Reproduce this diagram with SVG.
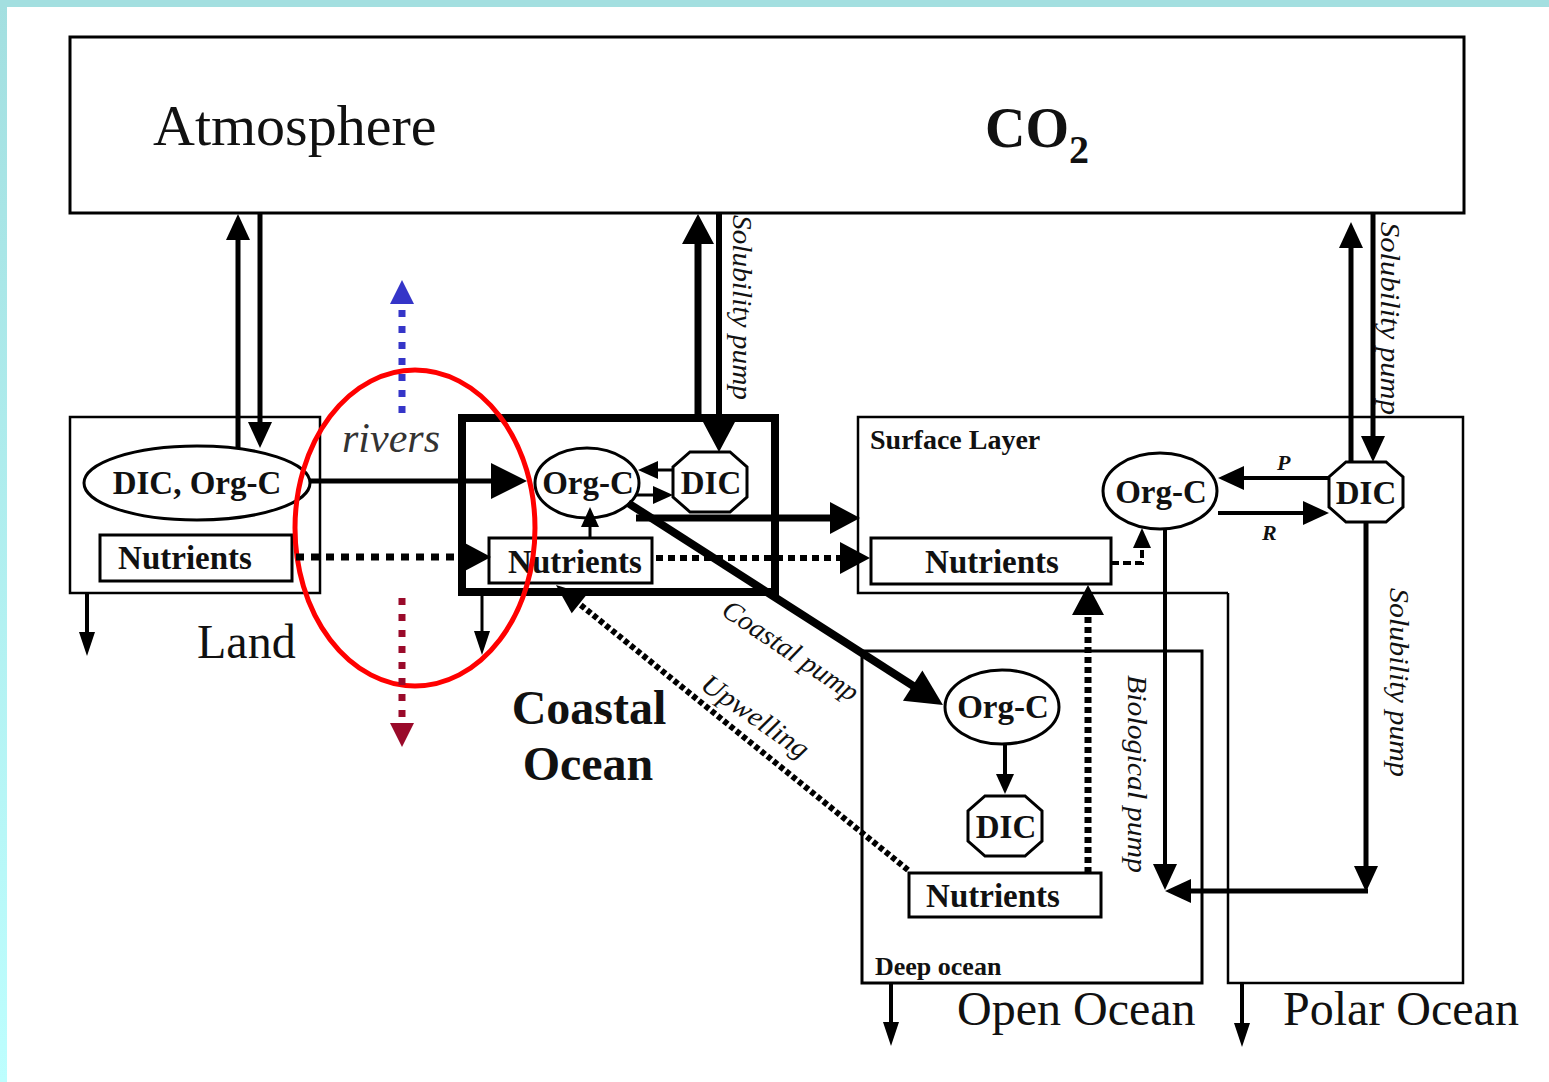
<svg xmlns="http://www.w3.org/2000/svg" width="1549" height="1082" viewBox="0 0 1549 1082">
<defs>
<linearGradient id="edge" x1="0" y1="0" x2="0" y2="1"><stop offset="0" stop-color="#a3dfe0"/><stop offset="1" stop-color="#bdfefe"/></linearGradient>
<marker id="aL" markerUnits="userSpaceOnUse" markerWidth="36" markerHeight="36" refX="1" refY="18" orient="auto" overflow="visible"><path d="M0,0 L36,18 L0,36 Z" fill="#000"/></marker>
<marker id="aM" markerUnits="userSpaceOnUse" markerWidth="30" markerHeight="32" refX="1" refY="16" orient="auto" overflow="visible"><path d="M0,0 L30,16 L0,32 Z" fill="#000"/></marker>
<marker id="aS" markerUnits="userSpaceOnUse" markerWidth="26" markerHeight="24" refX="1" refY="12" orient="auto" overflow="visible"><path d="M0,0 L26,12 L0,24 Z" fill="#000"/></marker>
<marker id="aT" markerUnits="userSpaceOnUse" markerWidth="20" markerHeight="18" refX="1" refY="9" orient="auto" overflow="visible"><path d="M0,0 L20,9 L0,18 Z" fill="#000"/></marker>
<marker id="aX" markerUnits="userSpaceOnUse" markerWidth="24" markerHeight="16" refX="1" refY="8" orient="auto" overflow="visible"><path d="M0,0 L24,8 L0,16 Z" fill="#000"/></marker>
<marker id="aU" markerUnits="userSpaceOnUse" markerWidth="30" markerHeight="24" refX="1" refY="12" orient="auto" overflow="visible"><path d="M0,0 L30,12 L0,24 Z" fill="#000"/></marker>
<marker id="aB" markerUnits="userSpaceOnUse" markerWidth="24" markerHeight="24" refX="1" refY="12" orient="auto" overflow="visible"><path d="M0,0 L24,12 L0,24 Z" fill="#3535c8"/></marker>
<marker id="aR" markerUnits="userSpaceOnUse" markerWidth="24" markerHeight="24" refX="1" refY="12" orient="auto" overflow="visible"><path d="M0,0 L24,12 L0,24 Z" fill="#9a0a2a"/></marker>
<polygon id="oct" points="-20,-30 20,-30 37,-15 37,15 20,30 -20,30 -37,15 -37,-15" fill="#fff" stroke="#000" stroke-width="3"/>
</defs>
<style>
.box{fill:none;stroke:#000}
.node{fill:#fff;stroke:#000;stroke-width:3}
.serif{font-family:"Liberation Serif","Times New Roman",serif}
.lbl{font-family:"Liberation Serif","Times New Roman",serif;font-weight:bold;font-size:33px;text-anchor:middle;fill:#111}
.big{font-family:"Liberation Serif","Times New Roman",serif;font-size:48px;fill:#111}
.ital{font-family:"Liberation Serif","Times New Roman",serif;font-style:italic;font-size:28px;fill:#111}
.c{fill:none;stroke:#000}
</style>
<rect x="0" y="0" width="1549" height="1082" fill="#fff"/>
<rect x="0" y="0" width="7" height="1082" fill="url(#edge)"/>
<rect x="0" y="0" width="1549" height="7" fill="#a3dfe0"/>

<g id="atmosphere">
<rect x="70" y="37" width="1394" height="176" class="box" stroke-width="3"/>
<text x="153" y="145" class="serif" font-size="58" fill="#111">Atmosphere</text>
<text x="985" y="147" class="serif" font-size="56" font-weight="bold" fill="#111">CO<tspan font-size="40" dy="16">2</tspan></text>
</g>

<g id="land">
<rect x="70" y="417" width="250" height="176" class="box" stroke-width="2.5"/>
<text x="197" y="658" class="big" font-size="46">Land</text>
</g>
<g id="land-dic-orgc">
<ellipse cx="197" cy="483" rx="113" ry="37" class="node"/>
<text x="197" y="494" class="lbl" font-size="32">DIC, Org-C</text>
</g>
<g id="land-nutrients">
<rect x="100" y="535" width="192" height="46" class="node"/>
<text x="185" y="569" class="lbl">Nutrients</text>
</g>

<g id="coastal">
<rect x="462" y="418" width="313" height="174" class="box" stroke-width="8"/>
<text x="589" y="724" class="big" font-weight="bold" text-anchor="middle">Coastal</text>
<text x="588" y="780" class="big" font-weight="bold" text-anchor="middle">Ocean</text>
</g>
<g id="coastal-orgc">
<ellipse cx="587" cy="483" rx="52" ry="35" class="node"/>
<text x="588" y="494" class="lbl">Org-C</text>
</g>
<g id="coastal-dic">
<use href="#oct" x="710" y="482"/>
<text x="711" y="494" class="lbl">DIC</text>
</g>
<g id="coastal-nutrients">
<rect x="489" y="538" width="163" height="45" class="node"/>
<text x="575" y="573" class="lbl">Nutrients</text>
</g>

<g id="surface-layer">
<path d="M1228,593 H858 V417 H1463 V593" class="box" stroke-width="2.5"/>
<text x="870" y="449" class="serif" font-weight="bold" font-size="28" fill="#111">Surface Layer</text>
</g>
<g id="surface-orgc">
<ellipse cx="1160" cy="491" rx="57" ry="38" class="node"/>
<text x="1161" y="503" class="lbl">Org-C</text>
</g>
<g id="surface-dic">
<use href="#oct" x="1366" y="492"/>
<text x="1366" y="504" class="lbl">DIC</text>
</g>
<g id="surface-nutrients">
<rect x="871" y="538" width="240" height="46" class="node"/>
<text x="992" y="573" class="lbl">Nutrients</text>
</g>

<g id="deep-ocean">
<rect x="862" y="651" width="340" height="332" class="box" stroke-width="3"/>
<text x="875" y="975" class="serif" font-weight="bold" font-size="26" fill="#111">Deep ocean</text>
<text x="957" y="1025" class="big">Open Ocean</text>
</g>
<g id="deep-orgc">
<ellipse cx="1002" cy="707" rx="57" ry="37" class="node"/>
<text x="1003" y="718" class="lbl">Org-C</text>
</g>
<g id="deep-dic">
<use href="#oct" x="1005" y="826"/>
<text x="1006" y="838" class="lbl">DIC</text>
</g>
<g id="deep-nutrients">
<rect x="909" y="873" width="192" height="44" class="node"/>
<text x="993" y="907" class="lbl">Nutrients</text>
</g>

<g id="polar-ocean">
<path d="M1228,593 V983 H1463 V593" class="box" stroke-width="2.5"/>
<text x="1283" y="1025" class="big">Polar Ocean</text>
</g>

<g id="rivers">
<ellipse cx="415" cy="528" rx="120" ry="158" fill="none" stroke="#ff0000" stroke-width="5"/>
<text x="342" y="452" class="serif" font-style="italic" font-size="42" fill="#333">rivers</text>
</g>

<g id="connectors">
<line x1="238" y1="448" x2="238" y2="239" class="c" stroke-width="5" marker-end="url(#aS)"/>
<line x1="260" y1="213" x2="260" y2="423" class="c" stroke-width="5" marker-end="url(#aS)"/>
<line x1="310" y1="481" x2="492" y2="481" class="c" stroke-width="5" marker-end="url(#aL)"/>
<line x1="296" y1="557" x2="462" y2="557" class="c" stroke-width="7" stroke-dasharray="8 7" marker-end="url(#aM)"/>
<line x1="87" y1="593" x2="87" y2="633" class="c" stroke-width="4" marker-end="url(#aX)"/>
<line x1="482" y1="596" x2="482" y2="632" class="c" stroke-width="3" marker-end="url(#aX)"/>
<line x1="698" y1="414" x2="698" y2="243" class="c" stroke-width="7" marker-end="url(#aM)"/>
<line x1="719" y1="213" x2="719" y2="423" class="c" stroke-width="6" marker-end="url(#aM)"/>
<line x1="673" y1="470" x2="657" y2="470" class="c" stroke-width="3" marker-end="url(#aT)"/>
<line x1="636" y1="495" x2="654" y2="495" class="c" stroke-width="3" marker-end="url(#aT)"/>
<line x1="590" y1="538" x2="590" y2="526" class="c" stroke-width="3" marker-end="url(#aT)"/>
<line x1="636" y1="518" x2="831" y2="518" class="c" stroke-width="7" marker-end="url(#aM)"/>
<line x1="656" y1="558" x2="841" y2="558" class="c" stroke-width="6" stroke-dasharray="7 5" marker-end="url(#aM)"/>
<line x1="628" y1="503" x2="913.5" y2="686.1" class="c" stroke-width="8" marker-end="url(#aL)"/>
<line x1="908" y1="870" x2="578.5" y2="603.2" class="c" stroke-width="6" stroke-dasharray="5 3" marker-end="url(#aU)"/>
<line x1="1088" y1="873" x2="1088" y2="614" class="c" stroke-width="7" stroke-dasharray="6 4" marker-end="url(#aM)"/>
<path d="M1111,563 H1142 V547" class="c" stroke-width="4" stroke-dasharray="8 4" marker-end="url(#aT)"/>
<line x1="1165" y1="529" x2="1165" y2="865" class="c" stroke-width="4" marker-end="url(#aS)"/>
<line x1="1329" y1="478" x2="1243" y2="478" class="c" stroke-width="4" marker-end="url(#aS)"/>
<line x1="1218" y1="513" x2="1304" y2="513" class="c" stroke-width="4" marker-end="url(#aS)"/>
<line x1="1351" y1="462" x2="1351" y2="247" class="c" stroke-width="5" marker-end="url(#aS)"/>
<line x1="1373" y1="213" x2="1373" y2="437" class="c" stroke-width="5" marker-end="url(#aS)"/>
<line x1="1366" y1="522" x2="1366" y2="867" class="c" stroke-width="5" marker-end="url(#aS)"/>
<line x1="1368" y1="891" x2="1190" y2="891" class="c" stroke-width="5" marker-end="url(#aS)"/>
<line x1="1005" y1="745" x2="1005" y2="775" class="c" stroke-width="4" marker-end="url(#aT)"/>
<line x1="891" y1="983" x2="891" y2="1023" class="c" stroke-width="4" marker-end="url(#aX)"/>
<line x1="1242" y1="983" x2="1242" y2="1024" class="c" stroke-width="4" marker-end="url(#aX)"/>
<line x1="402" y1="413" x2="402" y2="303" fill="none" stroke="#3535c8" stroke-width="7" stroke-dasharray="7 9" marker-end="url(#aB)"/>
<line x1="402" y1="598" x2="402" y2="724" fill="none" stroke="#9a0a2a" stroke-width="7" stroke-dasharray="7 9" marker-end="url(#aR)"/>
<text transform="translate(733,215) rotate(90)" class="ital" textLength="185" lengthAdjust="spacingAndGlyphs">Solubility pump</text>
<text transform="translate(1381,222) rotate(90)" class="ital" textLength="193" lengthAdjust="spacingAndGlyphs">Solubility pump</text>
<text transform="translate(1390,588) rotate(90)" class="ital" textLength="189" lengthAdjust="spacingAndGlyphs">Solubility pump</text>
<text transform="translate(1128,675) rotate(90)" class="ital" textLength="198" lengthAdjust="spacingAndGlyphs">Biological pump</text>
<text transform="translate(720,614) rotate(34)" class="ital" textLength="158" lengthAdjust="spacingAndGlyphs">Coastal pump</text>
<text transform="translate(699,688) rotate(35)" class="ital" textLength="125" lengthAdjust="spacingAndGlyphs">Upwelling</text>
<text x="1277" y="470" class="serif" font-style="italic" font-weight="bold" font-size="22" fill="#111">P</text>
<text x="1262" y="540" class="serif" font-style="italic" font-weight="bold" font-size="22" fill="#111">R</text>
</g>
</svg>
